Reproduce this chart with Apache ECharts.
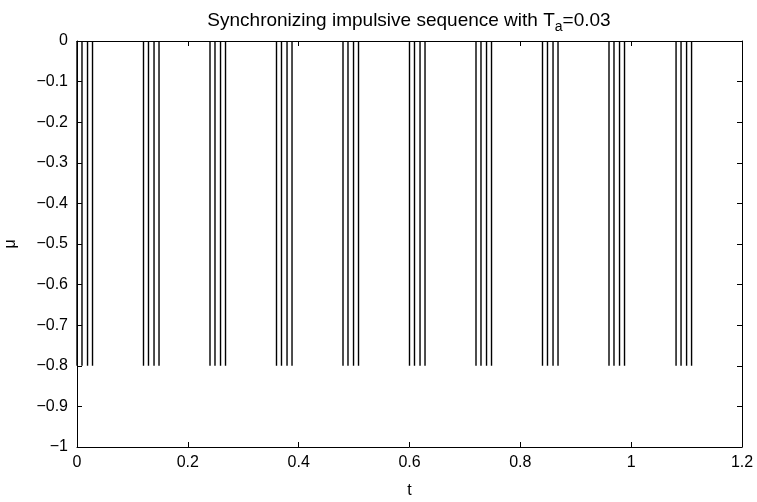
<!DOCTYPE html>
<html>
<head>
<meta charset="utf-8">
<script src="https://cdn.jsdelivr.net/npm/echarts@6/dist/echarts.min.js"></script>
<style>html,body{margin:0;padding:0;background:#fff}#c{width:757px;height:502px}</style>
</head>
<body>
<div id="c"></div>
<script>
// Impulse times (t)
const impulseTimes = [
  0.000, 0.009, 0.019, 0.028,
  0.120, 0.129, 0.139, 0.148,
  0.240, 0.249, 0.259, 0.268,
  0.360, 0.369, 0.379, 0.388,
  0.480, 0.489, 0.499, 0.508,
  0.600, 0.609, 0.619, 0.628,
  0.720, 0.729, 0.739, 0.748,
  0.840, 0.849, 0.859, 0.868,
  0.960, 0.969, 0.979, 0.988,
  1.081, 1.090, 1.100, 1.109
];
const impulseTop = 0;
const impulseBottom = -0.8;
const xTicks = [0, 0.2, 0.4, 0.6, 0.8, 1, 1.2];
const yTicks = [0, -0.1, -0.2, -0.3, -0.4, -0.5, -0.6, -0.7, -0.8, -0.9, -1];

const FONT = '"Liberation Sans", Arial, Helvetica, sans-serif';
const chart = echarts.init(document.getElementById('c'), null, {renderer: 'canvas'});

const data = impulseTimes.map(t => [t, impulseTop, impulseBottom]);

const axisCommon = {
  axisLine: {show: true, onZero: false, lineStyle: {color: '#000', width: 1}},
  axisTick: {show: true, inside: true, length: 5, lineStyle: {color: '#000', width: 1}},
  splitLine: {show: false}
};

chart.setOption({
  animation: false,
  backgroundColor: '#fff',
  title: {
    text: 'Synchronizing impulsive sequence with T{sub|a}=0.03',
    left: 404, top: 3, textAlign: 'center',
    textStyle: {
      fontFamily: FONT, fontSize: 19, fontWeight: 'normal', color: '#000',
      rich: {
        sub: {fontFamily: FONT, fontSize: 14, color: '#000', padding: [12, 0, 0, 0]}
      }
    }
  },
  grid: {left: 77, right: 15, top: 41, bottom: 55, containLabel: false, outerBoundsMode: 'none'},
  xAxis: [
    Object.assign({
      type: 'value', min: 0, max: 1.2, interval: 0.2, position: 'bottom',
      name: 't', nameLocation: 'middle', nameGap: 36,
      nameTextStyle: {fontFamily: FONT, fontSize: 16, color: '#000'},
      axisLabel: {fontFamily: FONT, fontSize: 16, color: '#000', margin: 8,
        formatter: v => String(+v.toFixed(1))}
    }, axisCommon),
    Object.assign({
      type: 'value', min: 0, max: 1.2, interval: 0.2, position: 'top',
      axisLabel: {show: false}
    }, axisCommon)
  ],
  yAxis: [
    Object.assign({
      type: 'value', min: -1, max: 0, interval: 0.1, position: 'left',
      name: 'μ', nameLocation: 'middle', nameGap: 58, nameRotate: 90,
      nameTextStyle: {fontFamily: FONT, fontSize: 16, color: '#000'},
      axisLabel: {fontFamily: FONT, fontSize: 16, color: '#000', margin: 9,
        formatter: v => {
          const r = +v.toFixed(1);
          return r === 0 ? '0' : String(r).replace('-', '\u2212');
        }}
    }, axisCommon),
    Object.assign({
      type: 'value', min: -1, max: 0, interval: 0.1, position: 'right',
      axisLabel: {show: false}
    }, axisCommon)
  ],
  series: [{
    type: 'custom',
    xAxisIndex: 0, yAxisIndex: 0,
    data: data,
    encode: {x: 0, y: [1, 2]},
    renderItem: function (params, api) {
      const x = api.value(0);
      const p0 = api.coord([x, api.value(1)]);
      const p1 = api.coord([x, api.value(2)]);
      return {
        type: 'line',
        shape: {x1: p0[0], y1: p0[1], x2: p1[0], y2: p1[1]},
        style: {stroke: '#000', lineWidth: 1.4}
      };
    }
  }]
});
</script>
</body>
</html>
